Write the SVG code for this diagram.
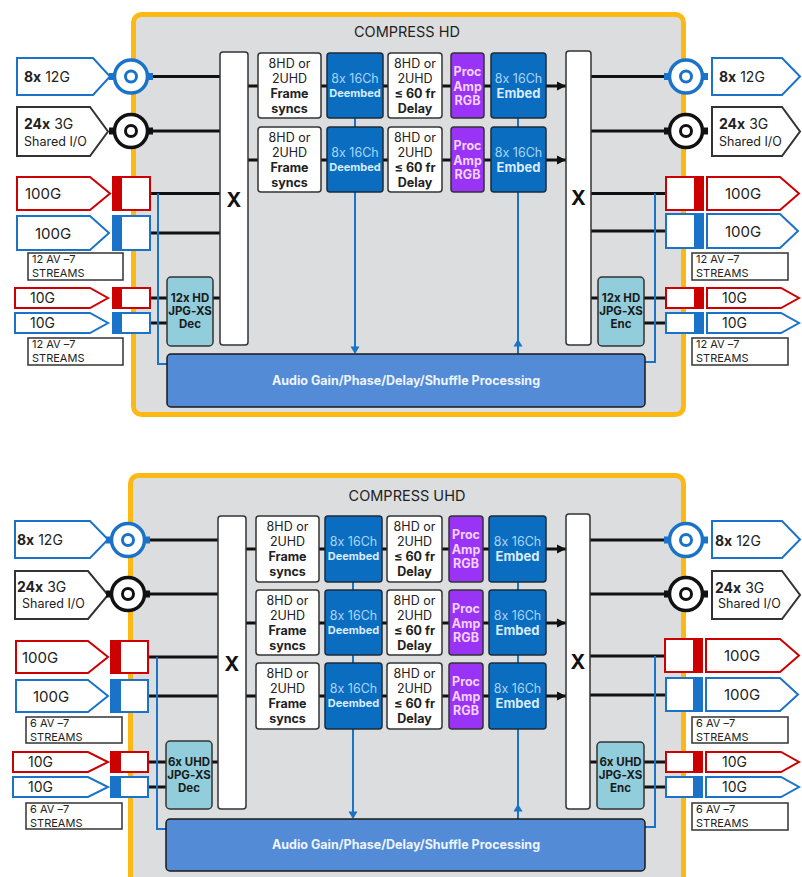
<svg xmlns="http://www.w3.org/2000/svg" xmlns:xlink="http://www.w3.org/1999/xlink" width="802" height="877" viewBox="0 0 802 877">
<style>
text{font-family:Inter,"Liberation Sans",Arial,sans-serif;fill:#222;font-feature-settings:"calt" 0;font-variant-ligatures:none}
.c{text-anchor:middle}
.b{font-weight:bold}
.panel{fill:#DCDDDF;stroke:#FDB913;stroke-width:5}
.title{font-size:14.5px;fill:#222}
.xbox{fill:#fff;stroke:#333;stroke-width:1.5}
.xt{font-size:20px;font-weight:bold;fill:#111}
.wbox{fill:#fff;stroke:#333;stroke-width:1.5}
.wt{font-size:12.5px;fill:#222}
.dbox{fill:#0B6DC0;stroke:#1c2b3a;stroke-width:1.5}
.dt1{font-size:12.5px;fill:#A9D6FA}
.dt2{font-size:11px;font-weight:bold;fill:#D8ECFF}
.dt3{font-size:13px;font-weight:bold;fill:#D8ECFF}
.pbox{fill:#9933F5;stroke:#333;stroke-width:1.5}
.pt{font-size:12.5px;font-weight:bold;fill:#F4D2FF}
.tbox{fill:#92CDDC;stroke:#333;stroke-width:1.5}
.tt{font-size:11.5px;font-weight:bold;fill:#1a1a1a}
.abox{fill:#538BD6;stroke:#1a1a1a;stroke-width:1.5}
.at{font-size:12.5px;font-weight:bold;fill:#EEF4FF}
.ln{stroke:#111;stroke-width:3;fill:none}
.bl{stroke:#1A73C8;stroke-width:2;fill:none}
.tagB{fill:#fff;stroke:#1A73C8;stroke-width:2}
.tagK{fill:#fff;stroke:#333;stroke-width:2}
.tagR{fill:#fff;stroke:#CC0000;stroke-width:2}
.tg{font-size:14px;fill:#222}
.tgs{font-size:12.5px;fill:#222}
.tg15{font-size:15px;fill:#222}
.lab{fill:#fff;stroke:#333;stroke-width:1.5}
.lt{font-size:11px;fill:#222}
.cbR{fill:#fff;stroke:#CC0000;stroke-width:2}
.cbB{fill:#fff;stroke:#1A73C8;stroke-width:2}
.fR{fill:#CC0000}
.fB{fill:#1A73C8}
</style>
<defs>
<g id="bnc">
<rect x="-22" y="-3.5" width="4" height="7" fill="currentColor"/>
<rect x="18" y="-3.5" width="4" height="7" fill="currentColor"/>
<circle r="16.5" fill="#fff" stroke="currentColor" stroke-width="3.5"/>
<circle r="5.5" fill="#fff" stroke="currentColor" stroke-width="3"/>
</g>
<marker id="ah" markerWidth="9" markerHeight="10" refX="9" refY="5" orient="auto" markerUnits="userSpaceOnUse">
<path d="M0,0.5 L9,5 L0,9.5 Z" fill="#111"/>
</marker>
</defs>

<!-- panels -->
<g id="panel-hd">
<rect class="panel" x="133.5" y="14.5" width="550" height="400" rx="8"/>
<text class="title c" x="407" y="37">COMPRESS HD</text>
</g>
<g id="panel-uhd">
<rect class="panel" x="130.5" y="475.5" width="553" height="430" rx="8"/>
<text class="title c" x="407" y="501">COMPRESS UHD</text>
</g>

<!-- connectors -->
<g id="connectors">
<!-- HD left -->
<path class="ln" d="M151 76.5H220M151 131H220M150 193.5H220M150 233H220M150 298H167M150 323H167M213 298H220"/>
<path class="bl" d="M158 193.5V364H167"/>
<!-- HD rows -->
<path class="ln" d="M248 86H258M321 86H327M383 86H388M442 86H451M484 86H491"/>
<path class="ln" d="M546 86H566" marker-end="url(#ah)"/>
<path class="ln" d="M248 160H258M321 160H327M383 160H388M442 160H451M484 160H491"/>
<path class="ln" d="M546 160H566" marker-end="url(#ah)"/>
<path class="bl" d="M355 118V348M518 118V354"/>
<polygon points="355,354 350.5,346.5 359.5,346.5" fill="#1A73C8"/>
<polygon points="518,339 513.5,346.5 522.5,346.5" fill="#1A73C8"/>
<!-- HD right -->
<path class="ln" d="M591 76.5H666M591 131H666M591 193.5H666M591 231H666M591 298H598M644 298H666M644 323H666"/>
<path class="bl" d="M655 193.5V362H645"/>

<!-- UHD left -->
<path class="ln" d="M148 540H218M148 594H218M148 657H218M148 696H218M148 762H166M148 787H166M212 762H218"/>
<path class="bl" d="M157 657V829H166"/>
<!-- UHD rows -->
<path class="ln" d="M246 549H256M319 549H325M382 549H387M442 549H449M483 549H489"/>
<path class="ln" d="M546 549H566" marker-end="url(#ah)"/>
<path class="ln" d="M246 623H256M319 623H325M382 623H387M442 623H449M483 623H489"/>
<path class="ln" d="M546 623H566" marker-end="url(#ah)"/>
<path class="ln" d="M246 696H256M319 696H325M382 696H387M442 696H449M483 696H489"/>
<path class="ln" d="M546 696H566" marker-end="url(#ah)"/>
<path class="bl" d="M353 582V813M518 582V819"/>
<polygon points="353,819 348.5,811.5 357.5,811.5" fill="#1A73C8"/>
<polygon points="518,804 513.5,811.5 522.5,811.5" fill="#1A73C8"/>
<!-- UHD right -->
<path class="ln" d="M590 540H666M590 594H666M590 656H665M590 695H666M590 762H597M644 762H666M644 787H666"/>
<path class="bl" d="M655 656V827H645"/>
</g>

<!-- ===== HD nodes ===== -->
<g id="hd-xl"><rect class="xbox" x="220" y="52" width="28" height="293" rx="3"/><text class="xt c" x="234" y="207">X</text></g>
<g id="hd-xr"><rect class="xbox" x="566" y="51" width="25" height="294" rx="3"/><text class="xt c" x="578.5" y="205">X</text></g>

<g id="hd-r1-fs" transform="translate(258,53)"><rect class="wbox" width="63" height="65" rx="3"/><text class="wt c" x="31.5" y="14.5">8HD or</text><text class="wt c" x="31.5" y="29.5">2UHD</text><text class="wt c b" x="31.5" y="44.5">Frame</text><text class="wt c b" x="31.5" y="59.5">syncs</text></g>
<g id="hd-r1-de" transform="translate(327,53)"><rect class="dbox" width="56" height="65" rx="3"/><text class="dt1 c" x="28" y="29.5">8x 16Ch</text><text class="dt2 c" x="28" y="44">Deembed</text></g>
<g id="hd-r1-dl" transform="translate(388,53)"><rect class="wbox" width="54" height="65" rx="3"/><text class="wt c" x="27" y="14.5">8HD or</text><text class="wt c" x="27" y="29.5">2UHD</text><text class="wt c b" x="27" y="44.5">≤ 60 fr</text><text class="wt c b" x="27" y="59.5">Delay</text></g>
<g id="hd-r1-pa" transform="translate(451,53)"><rect class="pbox" width="33" height="65" rx="3"/><text class="pt c" x="16.5" y="22.5">Proc</text><text class="pt c" x="16.5" y="37.5">Amp</text><text class="pt c" x="16.5" y="51.5">RGB</text></g>
<g id="hd-r1-em" transform="translate(491,53)"><rect class="dbox" width="55" height="65" rx="3"/><text class="dt1 c" x="27.5" y="29.5">8x 16Ch</text><text class="dt3 c" x="27.5" y="44.5">Embed</text></g>

<g id="hd-r2-fs" transform="translate(258,127)"><rect class="wbox" width="63" height="65" rx="3"/><text class="wt c" x="31.5" y="14.5">8HD or</text><text class="wt c" x="31.5" y="29.5">2UHD</text><text class="wt c b" x="31.5" y="44.5">Frame</text><text class="wt c b" x="31.5" y="59.5">syncs</text></g>
<g id="hd-r2-de" transform="translate(327,127)"><rect class="dbox" width="56" height="65" rx="3"/><text class="dt1 c" x="28" y="29.5">8x 16Ch</text><text class="dt2 c" x="28" y="44">Deembed</text></g>
<g id="hd-r2-dl" transform="translate(388,127)"><rect class="wbox" width="54" height="65" rx="3"/><text class="wt c" x="27" y="14.5">8HD or</text><text class="wt c" x="27" y="29.5">2UHD</text><text class="wt c b" x="27" y="44.5">≤ 60 fr</text><text class="wt c b" x="27" y="59.5">Delay</text></g>
<g id="hd-r2-pa" transform="translate(451,127)"><rect class="pbox" width="33" height="65" rx="3"/><text class="pt c" x="16.5" y="22.5">Proc</text><text class="pt c" x="16.5" y="37.5">Amp</text><text class="pt c" x="16.5" y="51.5">RGB</text></g>
<g id="hd-r2-em" transform="translate(491,127)"><rect class="dbox" width="55" height="65" rx="3"/><text class="dt1 c" x="27.5" y="29.5">8x 16Ch</text><text class="dt3 c" x="27.5" y="44.5">Embed</text></g>

<g id="hd-dec"><rect class="tbox" x="167" y="277" width="46" height="69" rx="4"/><text class="tt c" x="190" y="302">12x HD</text><text class="tt c" x="190" y="315">JPG-XS</text><text class="tt c" x="190" y="328">Dec</text></g>
<g id="hd-enc"><rect class="tbox" x="598" y="277" width="46" height="69" rx="4"/><text class="tt c" x="621" y="302">12x HD</text><text class="tt c" x="621" y="315">JPG-XS</text><text class="tt c" x="621" y="328">Enc</text></g>
<g id="hd-audio"><rect class="abox" x="167" y="354" width="478" height="53" rx="4"/><text class="at c" x="406" y="384.5">Audio Gain/Phase/Delay/Shuffle Processing</text></g>

<!-- HD left I/O -->
<g id="hd-in-12g"><polygon class="tagB" points="17,58 93,58 110,76.5 93,95 17,95"/><text class="tg" x="24" y="82"><tspan class="b">8x</tspan> 12G</text><use href="#bnc" x="131" y="76.5" style="color:#1A73C8"/></g>
<g id="hd-in-3g"><polygon class="tagK" points="17,107 90,107 108,131.5 90,156 17,156"/><text class="tg" x="24" y="129"><tspan class="b">24x</tspan> 3G</text><text class="tgs" x="24" y="146">Shared I/O</text><use href="#bnc" x="131" y="131" style="color:#111"/></g>
<g id="hd-in-100r"><polygon class="tagR" points="17,177 90,177 110,193.5 90,210 17,210"/><text class="tg15" x="25" y="199">100G</text><rect class="cbR" x="113" y="177" width="37" height="33"/><rect class="fR" x="113" y="177" width="9" height="33"/></g>
<g id="hd-in-100b"><polygon class="tagB" points="17,216 90,216 109,233 90,250 17,250"/><text class="tg15" x="35" y="238.5">100G</text><rect class="cbB" x="113" y="216" width="37" height="34"/><rect class="fB" x="113" y="216" width="9" height="34"/></g>
<g id="hd-in-lab1"><rect class="lab" x="28" y="253" width="95" height="27"/><text class="lt" x="32" y="263">12 AV –7</text><text class="lt" x="32" y="276.5">STREAMS</text></g>
<g id="hd-in-10r"><polygon class="tagR" points="15,288 90,288 108,298 90,308 15,308"/><text class="tg" x="30" y="303">10G</text><rect class="cbR" x="113" y="288" width="37" height="20"/><rect class="fR" x="113" y="288" width="9" height="20"/></g>
<g id="hd-in-10b"><polygon class="tagB" points="15,313 90,313 108,323 90,333 15,333"/><text class="tg" x="30" y="328">10G</text><rect class="cbB" x="113" y="313" width="37" height="20"/><rect class="fB" x="113" y="313" width="9" height="20"/></g>
<g id="hd-in-lab2"><rect class="lab" x="28" y="338" width="95" height="27"/><text class="lt" x="32" y="348">12 AV –7</text><text class="lt" x="32" y="361.5">STREAMS</text></g>

<!-- HD right I/O -->
<g id="hd-out-12g"><use href="#bnc" x="686" y="76.5" style="color:#1A73C8"/><polygon class="tagB" points="712,58 782,58 800,76.5 782,95 712,95"/><text class="tg" x="719" y="82"><tspan class="b">8x</tspan> 12G</text></g>
<g id="hd-out-3g"><use href="#bnc" x="686" y="131" style="color:#111"/><polygon class="tagK" points="712,107 782,107 800,131.5 782,156 712,156"/><text class="tg" x="719" y="129"><tspan class="b">24x</tspan> 3G</text><text class="tgs" x="719" y="146">Shared I/O</text></g>
<g id="hd-out-100r"><rect class="cbR" x="666" y="177" width="37" height="33"/><rect class="fR" x="694" y="177" width="9" height="33"/><polygon class="tagR" points="707,177 780,177 799,193.5 780,210 707,210"/><text class="tg15" x="725" y="199">100G</text></g>
<g id="hd-out-100b"><rect class="cbB" x="666" y="214" width="37" height="34"/><rect class="fB" x="694" y="214" width="9" height="34"/><polygon class="tagB" points="707,214 780,214 798,231 780,248 707,248"/><text class="tg15" x="725" y="236.5">100G</text></g>
<g id="hd-out-lab1"><rect class="lab" x="692" y="253" width="96" height="27"/><text class="lt" x="696" y="263">12 AV –7</text><text class="lt" x="696" y="276.5">STREAMS</text></g>
<g id="hd-out-10r"><rect class="cbR" x="666" y="288" width="37" height="20"/><rect class="fR" x="694" y="288" width="9" height="20"/><polygon class="tagR" points="707,288 781,288 799,298 781,308 707,308"/><text class="tg" x="722" y="303">10G</text></g>
<g id="hd-out-10b"><rect class="cbB" x="666" y="313" width="37" height="20"/><rect class="fB" x="694" y="313" width="9" height="20"/><polygon class="tagB" points="707,313 781,313 799,323 781,333 707,333"/><text class="tg" x="722" y="328">10G</text></g>
<g id="hd-out-lab2"><rect class="lab" x="692" y="338" width="96" height="27"/><text class="lt" x="696" y="348">12 AV –7</text><text class="lt" x="696" y="361.5">STREAMS</text></g>

<!-- ===== UHD nodes ===== -->
<g id="uhd-xl"><rect class="xbox" x="218" y="516" width="28" height="293" rx="3"/><text class="xt c" x="232" y="671">X</text></g>
<g id="uhd-xr"><rect class="xbox" x="566" y="514" width="24" height="295" rx="3"/><text class="xt c" x="578" y="669">X</text></g>

<g id="uhd-r1-fs" transform="translate(256,516)"><rect class="wbox" width="63" height="66" rx="3"/><text class="wt c" x="31.5" y="14.5">8HD or</text><text class="wt c" x="31.5" y="29.5">2UHD</text><text class="wt c b" x="31.5" y="44.5">Frame</text><text class="wt c b" x="31.5" y="59.5">syncs</text></g>
<g id="uhd-r1-de" transform="translate(325,516)"><rect class="dbox" width="57" height="66" rx="3"/><text class="dt1 c" x="28.5" y="29.5">8x 16Ch</text><text class="dt2 c" x="28.5" y="44">Deembed</text></g>
<g id="uhd-r1-dl" transform="translate(387,516)"><rect class="wbox" width="55" height="66" rx="3"/><text class="wt c" x="27.5" y="14.5">8HD or</text><text class="wt c" x="27.5" y="29.5">2UHD</text><text class="wt c b" x="27.5" y="44.5">≤ 60 fr</text><text class="wt c b" x="27.5" y="59.5">Delay</text></g>
<g id="uhd-r1-pa" transform="translate(449,516)"><rect class="pbox" width="34" height="66" rx="3"/><text class="pt c" x="17" y="22.5">Proc</text><text class="pt c" x="17" y="37.5">Amp</text><text class="pt c" x="17" y="51.5">RGB</text></g>
<g id="uhd-r1-em" transform="translate(489,516)"><rect class="dbox" width="57" height="66" rx="3"/><text class="dt1 c" x="28.5" y="29.5">8x 16Ch</text><text class="dt3 c" x="28.5" y="44.5">Embed</text></g>

<g id="uhd-r2-fs" transform="translate(256,590)"><rect class="wbox" width="63" height="65" rx="3"/><text class="wt c" x="31.5" y="14.5">8HD or</text><text class="wt c" x="31.5" y="29.5">2UHD</text><text class="wt c b" x="31.5" y="44.5">Frame</text><text class="wt c b" x="31.5" y="59.5">syncs</text></g>
<g id="uhd-r2-de" transform="translate(325,590)"><rect class="dbox" width="57" height="65" rx="3"/><text class="dt1 c" x="28.5" y="29.5">8x 16Ch</text><text class="dt2 c" x="28.5" y="44">Deembed</text></g>
<g id="uhd-r2-dl" transform="translate(387,590)"><rect class="wbox" width="55" height="65" rx="3"/><text class="wt c" x="27.5" y="14.5">8HD or</text><text class="wt c" x="27.5" y="29.5">2UHD</text><text class="wt c b" x="27.5" y="44.5">≤ 60 fr</text><text class="wt c b" x="27.5" y="59.5">Delay</text></g>
<g id="uhd-r2-pa" transform="translate(449,590)"><rect class="pbox" width="34" height="65" rx="3"/><text class="pt c" x="17" y="22.5">Proc</text><text class="pt c" x="17" y="37.5">Amp</text><text class="pt c" x="17" y="51.5">RGB</text></g>
<g id="uhd-r2-em" transform="translate(489,590)"><rect class="dbox" width="57" height="65" rx="3"/><text class="dt1 c" x="28.5" y="29.5">8x 16Ch</text><text class="dt3 c" x="28.5" y="44.5">Embed</text></g>

<g id="uhd-r3-fs" transform="translate(256,663)"><rect class="wbox" width="63" height="66" rx="3"/><text class="wt c" x="31.5" y="14.5">8HD or</text><text class="wt c" x="31.5" y="29.5">2UHD</text><text class="wt c b" x="31.5" y="44.5">Frame</text><text class="wt c b" x="31.5" y="59.5">syncs</text></g>
<g id="uhd-r3-de" transform="translate(325,663)"><rect class="dbox" width="57" height="66" rx="3"/><text class="dt1 c" x="28.5" y="29.5">8x 16Ch</text><text class="dt2 c" x="28.5" y="44">Deembed</text></g>
<g id="uhd-r3-dl" transform="translate(387,663)"><rect class="wbox" width="55" height="66" rx="3"/><text class="wt c" x="27.5" y="14.5">8HD or</text><text class="wt c" x="27.5" y="29.5">2UHD</text><text class="wt c b" x="27.5" y="44.5">≤ 60 fr</text><text class="wt c b" x="27.5" y="59.5">Delay</text></g>
<g id="uhd-r3-pa" transform="translate(449,663)"><rect class="pbox" width="34" height="66" rx="3"/><text class="pt c" x="17" y="22.5">Proc</text><text class="pt c" x="17" y="37.5">Amp</text><text class="pt c" x="17" y="51.5">RGB</text></g>
<g id="uhd-r3-em" transform="translate(489,663)"><rect class="dbox" width="57" height="66" rx="3"/><text class="dt1 c" x="28.5" y="29.5">8x 16Ch</text><text class="dt3 c" x="28.5" y="44.5">Embed</text></g>

<g id="uhd-dec"><rect class="tbox" x="166" y="741" width="46" height="68" rx="4"/><text class="tt c" x="189" y="766">6x UHD</text><text class="tt c" x="189" y="779">JPG-XS</text><text class="tt c" x="189" y="792">Dec</text></g>
<g id="uhd-enc"><rect class="tbox" x="597" y="742" width="47" height="67" rx="4"/><text class="tt c" x="620.5" y="766">6x UHD</text><text class="tt c" x="620.5" y="779">JPG-XS</text><text class="tt c" x="620.5" y="792">Enc</text></g>
<g id="uhd-audio"><rect class="abox" x="166" y="819" width="479" height="52" rx="4"/><text class="at c" x="406" y="848.5">Audio Gain/Phase/Delay/Shuffle Processing</text></g>

<!-- UHD left I/O -->
<g id="uhd-in-12g"><polygon class="tagB" points="15,521 90,521 108,539.5 90,558 15,558"/><text class="tg" x="17" y="545"><tspan class="b">8x</tspan> 12G</text><use href="#bnc" x="128" y="540" style="color:#1A73C8"/></g>
<g id="uhd-in-3g"><polygon class="tagK" points="15,571 88,571 108,595 88,619 15,619"/><text class="tg" x="17" y="592"><tspan class="b">24x</tspan> 3G</text><text class="tgs" x="22" y="608">Shared I/O</text><use href="#bnc" x="128" y="594" style="color:#111"/></g>
<g id="uhd-in-100r"><polygon class="tagR" points="16,641 88,641 108,657 88,673 16,673"/><text class="tg15" x="22" y="662.5">100G</text><rect class="cbR" x="111" y="641" width="37" height="32"/><rect class="fR" x="111" y="641" width="10" height="32"/></g>
<g id="uhd-in-100b"><polygon class="tagB" points="16,680 88,680 108,696 88,712 16,712"/><text class="tg15" x="33" y="701.5">100G</text><rect class="cbB" x="111" y="680" width="37" height="32"/><rect class="fB" x="111" y="680" width="10" height="32"/></g>
<g id="uhd-in-lab1"><rect class="lab" x="26" y="717" width="96" height="26"/><text class="lt" x="30" y="727">6 AV –7</text><text class="lt" x="30" y="740.5">STREAMS</text></g>
<g id="uhd-in-10r"><polygon class="tagR" points="13,752 88,752 108,762 88,772 13,772"/><text class="tg" x="28" y="767">10G</text><rect class="cbR" x="111" y="752" width="37" height="20"/><rect class="fR" x="111" y="752" width="10" height="20"/></g>
<g id="uhd-in-10b"><polygon class="tagB" points="13,777 88,777 108,787 88,797 13,797"/><text class="tg" x="28" y="792">10G</text><rect class="cbB" x="111" y="777" width="37" height="20"/><rect class="fB" x="111" y="777" width="10" height="20"/></g>
<g id="uhd-in-lab2"><rect class="lab" x="26" y="803" width="96" height="26"/><text class="lt" x="30" y="813">6 AV –7</text><text class="lt" x="30" y="826.5">STREAMS</text></g>

<!-- UHD right I/O -->
<g id="uhd-out-12g"><use href="#bnc" x="686" y="540" style="color:#1A73C8"/><polygon class="tagB" points="712,521 782,521 800,539.5 782,558 712,558"/><text class="tg" x="715" y="546"><tspan class="b">8x</tspan> 12G</text></g>
<g id="uhd-out-3g"><use href="#bnc" x="686" y="594" style="color:#111"/><polygon class="tagK" points="712,571 782,571 800,595 782,619 712,619"/><text class="tg" x="715" y="593"><tspan class="b">24x</tspan> 3G</text><text class="tgs" x="718" y="608">Shared I/O</text></g>
<g id="uhd-out-100r"><rect class="cbR" x="665" y="639" width="37" height="33"/><rect class="fR" x="693" y="639" width="9" height="33"/><polygon class="tagR" points="706,639 780,639 799,655.5 780,672 706,672"/><text class="tg15" x="724" y="661">100G</text></g>
<g id="uhd-out-100b"><rect class="cbB" x="666" y="678" width="36" height="33"/><rect class="fB" x="693" y="678" width="9" height="33"/><polygon class="tagB" points="706,678 780,678 798,694.5 780,711 706,711"/><text class="tg15" x="724" y="700">100G</text></g>
<g id="uhd-out-lab1"><rect class="lab" x="692" y="717" width="96" height="26"/><text class="lt" x="696" y="727">6 AV –7</text><text class="lt" x="696" y="740.5">STREAMS</text></g>
<g id="uhd-out-10r"><rect class="cbR" x="666" y="752" width="36" height="20"/><rect class="fR" x="693" y="752" width="9" height="20"/><polygon class="tagR" points="706,752 781,752 799,762 781,772 706,772"/><text class="tg" x="722" y="767">10G</text></g>
<g id="uhd-out-10b"><rect class="cbB" x="666" y="777" width="36" height="20"/><rect class="fB" x="693" y="777" width="9" height="20"/><polygon class="tagB" points="706,777 781,777 799,787 781,797 706,797"/><text class="tg" x="722" y="792">10G</text></g>
<g id="uhd-out-lab2"><rect class="lab" x="692" y="803" width="96" height="27"/><text class="lt" x="696" y="813">6 AV –7</text><text class="lt" x="696" y="826.5">STREAMS</text></g>
</svg>
